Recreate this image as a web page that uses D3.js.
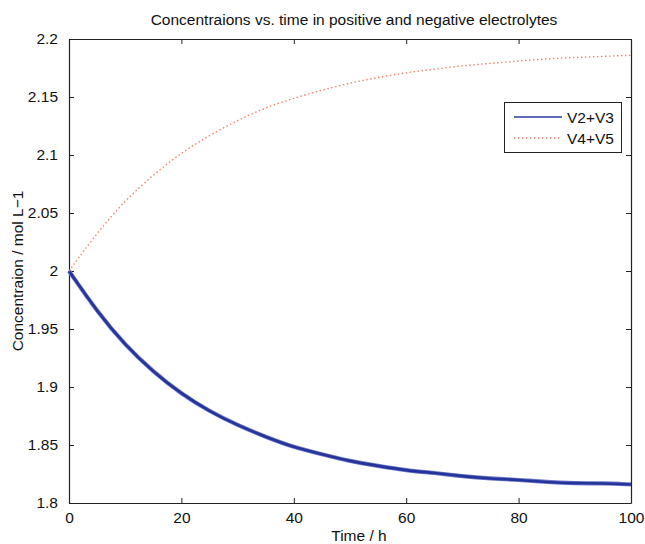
<!DOCTYPE html>
<html>
<head>
<meta charset="utf-8">
<script src="https://cdn.jsdelivr.net/npm/d3@7"></script>
<style>
    body { margin: 0; background: #fff; }
    svg { font-family: "Liberation Sans", Arial, sans-serif; }
</style>
</head>
<body>
<svg id="chart" width="645" height="544"></svg>
<script>
// Values (every 5 h)
const timeH = [0, 5, 10, 15, 20, 25, 30, 35, 40, 45, 50, 55, 60, 65, 70, 75, 80, 85, 90, 95, 100];
const v23 = [2.000, 1.965, 1.936, 1.913, 1.894, 1.879, 1.867, 1.857, 1.848, 1.842, 1.836,
             1.832, 1.828, 1.826, 1.823, 1.821, 1.820, 1.818, 1.817, 1.817, 1.816];
const v45 = [2.000, 2.033, 2.061, 2.083, 2.102, 2.117, 2.130, 2.141, 2.149, 2.156, 2.162,
             2.167, 2.171, 2.174, 2.177, 2.179, 2.181, 2.183, 2.184, 2.185, 2.186];
const xTicks = [0, 20, 40, 60, 80, 100];
const yTicks = [1.8, 1.85, 1.9, 1.95, 2, 2.05, 2.1, 2.15, 2.2];
const seriesNames = ["V2+V3", "V4+V5"];

const margin = { left: 69, right: 631, top: 39, bottom: 503 };
const fontSize = 15.5;
const svg = d3.select("#chart");

const x = d3.scaleLinear().domain([0, 100]).range([margin.left, margin.right]);
const y = d3.scaleLinear().domain([1.8, 2.2]).range([margin.bottom, margin.top]);

const fmt = d => String(+d.toFixed(2));

// axes: ticks inside, on all four sides (MATLAB style)
svg.append("g")
    .attr("transform", "translate(0," + margin.bottom + ")")
    .call(d3.axisBottom(x).tickValues(xTicks).tickSizeInner(-5).tickSizeOuter(0).tickPadding(9).tickFormat(fmt));
svg.append("g")
    .attr("transform", "translate(0," + margin.top + ")")
    .call(d3.axisTop(x).tickValues(xTicks).tickSizeInner(-5).tickSizeOuter(0).tickFormat(""));
svg.append("g")
    .attr("transform", "translate(" + margin.left + ",0)")
    .call(d3.axisLeft(y).tickValues(yTicks).tickSizeInner(-5).tickSizeOuter(0).tickPadding(11).tickFormat(fmt));
svg.append("g")
    .attr("transform", "translate(" + margin.right + ",0)")
    .call(d3.axisRight(y).tickValues(yTicks).tickSizeInner(-5).tickSizeOuter(0).tickFormat(""));

svg.selectAll(".domain").attr("stroke", "#222").attr("stroke-width", 1.2);
svg.selectAll(".tick line").attr("stroke", "#222");
svg.selectAll(".tick text").attr("font-size", fontSize).attr("fill", "#111")
    .attr("font-family", "Liberation Sans, Arial, sans-serif");

// data lines
const line = d3.line()
    .x((d, i) => x(timeH[i]))
    .y(d => y(d))
    .curve(d3.curveBasis);

// blue band (the oscillation makes it look thick)
svg.append("path").datum(v23)
    .attr("fill", "none").attr("stroke", "#6f79c4").attr("stroke-width", 4.2)
    .attr("d", line);
svg.append("path").datum(v23)
    .attr("fill", "none").attr("stroke", "#25349a").attr("stroke-width", 2.6)
    .attr("d", line);

// red dotted
svg.append("path").datum(v45)
    .attr("fill", "none").attr("stroke", "#f4826a").attr("stroke-width", 1.4)
    .attr("stroke-dasharray", "1.5,2.5")
    .attr("d", line);

// title and labels
svg.append("text")
    .attr("x", 354).attr("y", 25)
    .attr("text-anchor", "middle").attr("font-size", fontSize).attr("fill", "#111")
    .text("Concentraions vs. time in positive and negative electrolytes");

svg.append("text")
    .attr("x", 359).attr("y", 541)
    .attr("text-anchor", "middle").attr("font-size", fontSize).attr("fill", "#111")
    .text("Time / h");

svg.append("text")
    .attr("transform", "translate(23," + ((margin.top + margin.bottom) / 2) + ") rotate(-90)")
    .attr("text-anchor", "middle").attr("font-size", fontSize).attr("fill", "#111")
    .text("Concentraion / mol L\u22121");

// legend
const legend = svg.append("g");
legend.append("rect")
    .attr("x", 504.5).attr("y", 102.5).attr("width", 117).attr("height", 50)
    .attr("fill", "#fff").attr("stroke", "#222").attr("stroke-width", 1);

const rows = [
    { name: seriesNames[0], y: 117, color: "#2a3a9c", dash: null, w: 1.3 },
    { name: seriesNames[1], y: 138, color: "#f4826a", dash: "1.5,2.5", w: 1.4 }
];
rows.forEach(r => {
    legend.append("line")
        .attr("x1", 514).attr("x2", 562).attr("y1", r.y).attr("y2", r.y)
        .attr("stroke", r.color).attr("stroke-width", r.w)
        .attr("stroke-dasharray", r.dash);
    legend.append("text")
        .attr("x", 567).attr("y", r.y + 5.5)
        .attr("font-size", fontSize).attr("fill", "#111")
        .text(r.name);
});
</script>
</body>
</html>
